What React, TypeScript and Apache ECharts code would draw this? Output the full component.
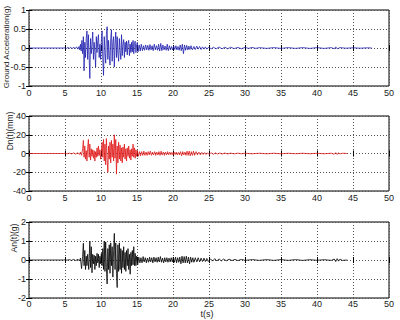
import React, { useEffect, useRef } from "react";
import * as echarts from "echarts";

const xTicks = { min: 0, max: 50, interval: 5 };
const yNames = ["Ground Acceleration(g)", "Dn(t)(mm)", "An(t)(g)"];
const xName = "t(s)";
const yRanges = [
  { min: -1, max: 1, interval: 0.5 },
  { min: -40, max: 40, interval: 20 },
  { min: -2, max: 2, interval: 1 },
];

const groundAcc: [number, number][] = [
  [0, 0], [4.8, 0], [5.0, 0.005], [5.2, -0.01], [5.4, 0.015], [5.6, -0.01], [5.8, 0.02], [6.0, -0.02], [6.2, 0.025], [6.4, -0.02], [6.6, 0.03], [6.8, -0.03], [6.95, 0.04], [7.05, -0.05], [7.15, 0.1], [7.25, -0.08], [7.35, 0.2], [7.45, -0.15], [7.55, 0.3], [7.65, -0.6], [7.75, 0.15], [7.85, -0.25], [7.95, 0.25], [8.05, 0.45], [8.15, -0.3], [8.25, 0.35], [8.35, -0.2], [8.45, -0.8], [8.55, 0.25], [8.65, -0.15], [8.75, 0.1], [8.85, 0.42], [8.95, -0.3], [9.05, 0.15], [9.15, -0.1], [9.25, -0.5], [9.35, 0.3], [9.45, -0.12], [9.55, 0.2], [9.65, 0.35], [9.75, -0.25], [9.85, 0.1], [9.95, -0.3], [10.05, 0.2], [10.15, 0.45], [10.25, -0.3], [10.35, -0.72], [10.45, 0.3], [10.55, -0.1], [10.65, -0.4], [10.75, 0.35], [10.85, 0.56], [10.95, -0.3], [11.05, 0.2], [11.15, -0.2], [11.25, -0.45], [11.35, 0.25], [11.45, 0.48], [11.55, -0.35], [11.65, 0.15], [11.75, 0.3], [11.85, -0.5], [11.95, 0.1], [12.05, 0.42], [12.15, -0.25], [12.25, 0.3], [12.35, -0.15], [12.45, -0.35], [12.55, 0.25], [12.65, -0.1], [12.75, -0.3], [12.85, 0.35], [12.95, -0.2], [13.05, 0.1], [13.15, 0.22], [13.25, -0.25], [13.35, 0.15], [13.45, -0.1], [13.55, 0.18], [13.65, -0.18], [13.75, 0.12], [13.85, 0.2], [13.95, -0.2], [14.05, 0.1], [14.15, -0.12], [14.25, 0.15], [14.35, -0.1], [14.45, 0.2], [14.55, -0.15], [14.65, 0.12], [14.75, 0.18], [14.85, -0.12], [14.95, 0.08], [15.05, 0.15], [15.15, -0.1], [15.3, 0.08], [15.45, -0.08], [15.6, 0.1], [15.75, -0.07], [15.9, 0.06], [16.05, -0.06], [16.2, 0.08], [16.35, -0.05], [16.5, 0.07], [16.65, -0.06], [16.8, 0.09], [16.95, -0.05], [17.1, 0.06], [17.25, -0.07], [17.4, 0.1], [17.55, -0.05], [17.7, 0.06], [17.85, -0.06], [18.0, 0.1], [18.15, -0.08], [18.3, 0.12], [18.45, -0.07], [18.6, 0.08], [18.75, -0.05], [18.9, 0.05], [19.05, -0.06], [19.2, 0.1], [19.35, -0.07], [19.5, 0.06], [19.65, -0.05], [19.8, 0.04], [19.95, -0.05], [20.1, 0.05], [20.25, -0.04], [20.4, 0.06], [20.55, -0.05], [20.7, 0.04], [20.85, -0.06], [21.0, 0.08], [21.15, -0.07], [21.3, 0.1], [21.45, -0.15], [21.6, 0.08], [21.75, -0.06], [21.9, 0.07], [22.05, -0.05], [22.2, 0.05], [22.35, -0.04], [22.5, 0.06], [22.7, -0.05], [22.9, 0.04], [23.1, -0.04], [23.3, 0.05], [23.5, -0.03], [23.7, 0.04], [23.9, -0.04], [24.1, 0.03], [24.3, -0.03], [24.5, 0.03], [24.7, -0.03], [25.0, 0.03], [25.3, -0.025], [25.6, 0.02], [26.0, -0.02], [26.4, 0.025], [26.8, -0.02], [27.2, 0.02], [27.6, -0.02], [28.0, 0.02], [28.5, -0.015], [29, 0.015], [29.5, -0.02], [30, 0.015], [30.5, -0.01], [31, 0.015], [31.5, -0.01], [32, 0.01], [33, -0.01], [34, 0.01], [35, -0.01], [36, 0.01], [37, -0.01], [38, 0.01], [39, -0.01], [40, 0.01], [41, -0.01], [42, 0.01], [42.4, -0.02], [42.6, 0.03], [42.8, -0.02], [43.2, 0.01], [44, -0.005], [45, 0.005], [46, -0.005], [47, 0.005], [47.6, 0],
];

const dnResponse: [number, number][] = [
  [0, 0], [4.8, 0], [5.0, 0.2], [5.3, -0.3], [5.6, 0.4], [5.9, -0.4], [6.2, 0.6], [6.5, -0.6], [6.8, 0.8], [7.0, -1], [7.15, 1.5], [7.3, -2], [7.45, 5], [7.55, 14], [7.65, -4], [7.75, 8], [7.85, -6], [7.95, 3], [8.05, -8], [8.15, 6], [8.25, 15], [8.35, -4], [8.45, 10], [8.55, -7], [8.65, 5], [8.75, -3], [8.85, 4], [8.95, -5], [9.05, 3], [9.15, -8], [9.25, 2], [9.35, -4], [9.45, 6], [9.55, -3], [9.65, 8], [9.75, -2], [9.85, 4], [9.95, -6], [10.05, 2], [10.15, 12], [10.25, -4], [10.35, 15], [10.45, -8], [10.55, 10], [10.65, -12], [10.75, 16], [10.85, -5], [10.95, -20], [11.05, 8], [11.15, -6], [11.25, 12], [11.35, -10], [11.45, 14], [11.55, -4], [11.65, 10], [11.75, -8], [11.85, 20], [11.95, -5], [12.05, 15], [12.15, -22], [12.25, 8], [12.35, -10], [12.45, 12], [12.55, -6], [12.65, 9], [12.75, -8], [12.85, 6], [12.95, -10], [13.05, 7], [13.15, -4], [13.25, 10], [13.35, -6], [13.45, 5], [13.55, -8], [13.65, 6], [13.75, -3], [13.85, 8], [13.95, -5], [14.05, 4], [14.15, -7], [14.25, 5], [14.35, -3], [14.45, 10], [14.55, -4], [14.65, 6], [14.75, -5], [14.85, 4], [14.95, -3], [15.05, 3], [15.2, -3], [15.35, 2], [15.5, -2.5], [15.65, 2], [15.8, -2], [15.95, 2.5], [16.1, -2], [16.25, 1.5], [16.4, -2], [16.55, 2], [16.7, -1.5], [16.85, 2.5], [17.0, -2], [17.15, 1.5], [17.3, -1.5], [17.45, 2], [17.6, -2], [17.75, 1.5], [17.9, -1.5], [18.05, 2], [18.2, -2], [18.35, 2.5], [18.5, -1.5], [18.65, 1.5], [18.8, -2], [18.95, 1.5], [19.1, -1.5], [19.25, 2], [19.4, -1.5], [19.55, 1.5], [19.7, -1.2], [19.85, 1.2], [20.0, -1.5], [20.15, 1.5], [20.3, -1.2], [20.45, 1.5], [20.6, -1.5], [20.75, 1.2], [20.9, -1.5], [21.05, 2], [21.2, -2.5], [21.35, 2], [21.5, -1.5], [21.65, 1.5], [21.8, -2], [21.95, 2.5], [22.1, -2], [22.25, 2.5], [22.4, -2.5], [22.55, 2], [22.7, -2], [22.85, 2.5], [23.0, -2], [23.2, 2], [23.4, -1.5], [23.6, 1.5], [23.8, -1.5], [24.0, 1.2], [24.2, -1], [24.4, 1], [24.6, -1], [24.8, 0.8], [25.0, -1], [25.3, 0.8], [25.6, -0.8], [25.9, 0.7], [26.2, -0.6], [26.5, 0.6], [26.8, -0.6], [27.2, 0.5], [27.6, -0.5], [28, 0.4], [28.5, -0.4], [29, 0.4], [29.5, -0.3], [30, 0.3], [31, -0.3], [32, 0.3], [33, -0.3], [34, 0.3], [35, -0.3], [36, 0.25], [37, -0.25], [38, 0.25], [39, -0.25], [40, 0.25], [41, -0.3], [42, 0.3], [42.4, -0.8], [42.6, 1], [42.8, -1], [43.0, 0.8], [43.2, -0.6], [43.5, 0.3], [44.2, 0],
];

const anResponse: [number, number][] = [
  [0, 0], [4.8, 0], [5.0, 0.01], [5.3, -0.01], [5.6, 0.02], [5.9, -0.02], [6.2, 0.03], [6.5, -0.03], [6.8, 0.04], [7.0, -0.05], [7.15, 0.1], [7.3, -0.45], [7.45, 0.2], [7.55, 0.88], [7.65, -0.3], [7.75, 0.5], [7.85, -0.5], [7.95, 0.2], [8.05, -0.3], [8.15, 0.3], [8.3, -0.5], [8.45, 1.0], [8.55, -0.4], [8.65, 0.7], [8.75, -0.67], [8.85, 0.3], [8.95, -0.2], [9.05, 0.25], [9.15, -0.5], [9.25, 0.2], [9.35, -0.3], [9.45, 0.35], [9.55, -0.15], [9.65, 0.3], [9.75, -0.4], [9.85, 0.2], [9.95, -0.2], [10.05, 0.35], [10.15, -0.3], [10.25, 0.6], [10.35, -0.5], [10.45, 1.0], [10.55, -0.6], [10.65, 0.95], [10.75, -0.4], [10.85, -1.26], [10.95, 0.6], [11.05, -0.5], [11.15, 0.8], [11.25, -0.7], [11.35, 0.9], [11.45, -0.3], [11.55, 0.7], [11.65, -0.9], [11.75, 0.5], [11.85, 1.4], [11.95, -0.5], [12.05, 0.9], [12.15, -0.7], [12.25, -1.45], [12.35, 0.8], [12.45, -0.6], [12.55, 0.9], [12.65, -0.5], [12.75, 0.6], [12.85, -0.7], [12.95, 0.5], [13.05, -0.4], [13.15, 0.7], [13.25, -0.5], [13.35, 0.4], [13.45, -0.6], [13.55, 0.5], [13.65, -0.3], [13.75, 0.6], [13.85, -0.5], [13.95, 0.3], [14.05, -0.75], [14.15, 0.4], [14.25, -0.3], [14.35, 0.5], [14.45, -0.25], [14.55, 0.7], [14.65, -0.3], [14.75, 0.35], [14.85, -0.3], [14.95, 0.2], [15.1, -0.25], [15.25, 0.15], [15.4, -0.15], [15.55, 0.12], [15.7, -0.15], [15.85, 0.18], [16.0, -0.1], [16.15, 0.12], [16.3, -0.15], [16.45, 0.1], [16.6, -0.12], [16.75, 0.15], [16.9, -0.1], [17.05, 0.12], [17.2, -0.15], [17.35, 0.15], [17.5, -0.1], [17.65, 0.12], [17.8, -0.12], [17.95, 0.15], [18.1, -0.1], [18.25, 0.18], [18.4, -0.12], [18.55, 0.1], [18.7, -0.15], [18.85, 0.12], [19.0, -0.1], [19.15, 0.12], [19.3, -0.12], [19.45, 0.1], [19.6, -0.1], [19.75, 0.12], [19.9, -0.1], [20.05, 0.15], [20.2, -0.12], [20.35, 0.15], [20.5, -0.15], [20.65, 0.12], [20.8, -0.12], [20.95, 0.15], [21.1, -0.2], [21.25, 0.2], [21.4, -0.15], [21.55, 0.18], [21.7, -0.15], [21.85, 0.2], [22.0, -0.15], [22.15, 0.15], [22.3, -0.2], [22.45, 0.15], [22.6, -0.12], [22.75, 0.12], [22.9, -0.12], [23.1, 0.12], [23.3, -0.1], [23.5, 0.12], [23.7, -0.1], [23.9, 0.1], [24.1, -0.08], [24.3, 0.1], [24.5, -0.08], [24.7, 0.08], [24.9, -0.08], [25.2, 0.06], [25.5, -0.06], [25.8, 0.07], [26.1, -0.05], [26.4, 0.06], [26.7, -0.05], [27.0, 0.05], [27.4, -0.04], [27.8, 0.04], [28.2, -0.03], [28.6, 0.03], [29, -0.03], [29.5, 0.03], [30, -0.02], [31, 0.02], [32, -0.02], [33, 0.02], [34, -0.02], [35, 0.02], [36, -0.02], [37, 0.02], [38, -0.02], [39, 0.015], [40, -0.015], [41, 0.015], [42, -0.02], [42.4, 0.05], [42.6, -0.08], [42.8, 0.07], [43.0, -0.06], [43.2, 0.05], [43.5, -0.02], [44.2, 0],
];

const seriesList = [groundAcc, dnResponse, anResponse];
const lineColors = ["#1f1fb0", "#e01818", "#000000"];

const FONT = "'Liberation Sans', Arial, sans-serif";

export default function App() {
  const ref = useRef<HTMLDivElement>(null);
  useEffect(() => {
    if (!ref.current) return;
    const chart = echarts.init(ref.current, undefined, { renderer: "svg" });
    const grids = [
      { left: 29, top: 10, width: 360, height: 76 },
      { left: 29, top: 116, width: 360, height: 75 },
      { left: 29, top: 222, width: 360, height: 76 },
    ];
    const grid = grids.map((g) => ({
      ...g,
      show: true,
      borderColor: "#000",
      borderWidth: 1,
      backgroundColor: "#fff",
      containLabel: false,
    }));
    const xAxis: any[] = [];
    const yAxis: any[] = [];
    const tick = { show: true, inside: true, length: 3, lineStyle: { color: "#000" } };
    const split = { show: true, lineStyle: { color: "#555", width: 1, type: [1, 2] } };
    const label = { fontSize: 9, color: "#222", fontFamily: FONT };
    grids.forEach((_, i) => {
      xAxis.push({
        type: "value", gridIndex: i, min: xTicks.min, max: xTicks.max, interval: xTicks.interval,
        position: "bottom", axisLine: { show: false }, axisTick: tick,
        axisLabel: { ...label, margin: i === 2 ? 1 : 2 }, splitLine: split,
      });
      xAxis.push({
        type: "value", gridIndex: i, min: xTicks.min, max: xTicks.max, interval: xTicks.interval,
        position: "top", axisLine: { show: false }, axisTick: tick,
        axisLabel: { show: false }, splitLine: { show: false },
      });
      const r = yRanges[i];
      yAxis.push({
        type: "value", gridIndex: i, min: r.min, max: r.max, interval: r.interval,
        position: "left", axisLine: { show: false }, axisTick: tick,
        axisLabel: { ...label, margin: 3 }, splitLine: split,
      });
      yAxis.push({
        type: "value", gridIndex: i, min: r.min, max: r.max, interval: r.interval,
        position: "right", axisLine: { show: false }, axisTick: tick,
        axisLabel: { show: false }, splitLine: { show: false },
      });
    });
    const series = seriesList.map((d, i) => ({
      type: "line",
      xAxisIndex: i * 2,
      yAxisIndex: i * 2,
      data: d,
      showSymbol: false,
      symbol: "none",
      lineStyle: { color: lineColors[i], width: 0.8 },
      z: 3,
    }));
    const nameStyle = { fill: "#222", fontFamily: FONT };
    const graphic = [
      { type: "text", x: 6, y: 47, rotation: Math.PI / 2, style: { ...nameStyle, fontSize: 8, text: yNames[0], textAlign: "center", textVerticalAlign: "middle" } },
      { type: "text", x: 10, y: 131, rotation: Math.PI / 2, style: { ...nameStyle, fontSize: 8.5, text: yNames[1], textAlign: "center", textVerticalAlign: "middle" } },
      { type: "text", x: 14, y: 238, rotation: Math.PI / 2, style: { ...nameStyle, fontSize: 8.5, text: yNames[2], textAlign: "center", textVerticalAlign: "middle" } },
      { type: "text", x: 207, y: 314, style: { ...nameStyle, fontSize: 9, text: xName, textAlign: "center", textVerticalAlign: "middle" } },
    ];
    chart.setOption({
      animation: false,
      backgroundColor: "#fff",
      grid,
      xAxis,
      yAxis,
      series,
      graphic,
    });
    return () => chart.dispose();
  }, []);
  return (
    <div
      ref={ref}
      style={{ position: "fixed", left: 0, top: 0, width: 400, height: 320 }}
    />
  );
}
